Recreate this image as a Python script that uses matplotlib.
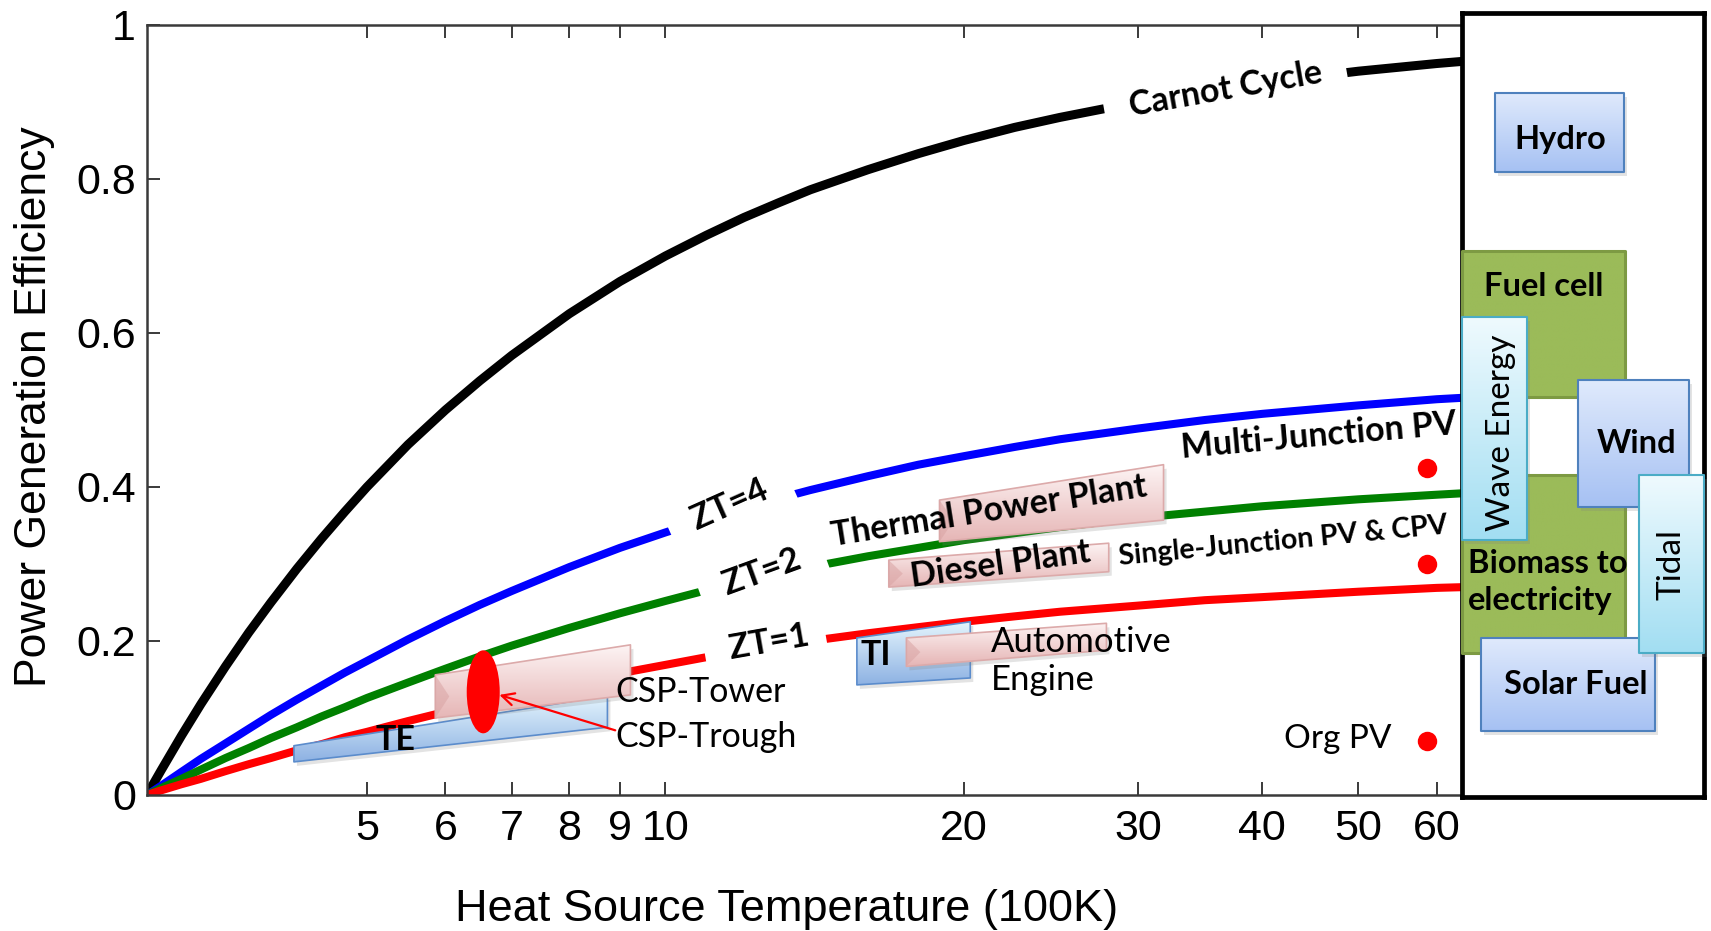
import numpy as np
import matplotlib
matplotlib.use("Agg")
import matplotlib.pyplot as plt
import matplotlib.transforms as mtransforms
from matplotlib.patches import Polygon, Ellipse
from matplotlib.colors import LinearSegmentedColormap
from matplotlib.ticker import NullLocator

# ---------------------------------------------------------------- data
# heat source temperature, in units of 100 K
temp = [3.0, 3.1, 3.25, 3.4, 3.6, 3.8, 4.0, 4.25, 4.5, 4.75, 5.0, 5.5, 6.0, 6.5,
        7.0, 8.0, 9.0, 10.0, 11.0, 12.0, 13.0, 14.0, 16.0, 18.0, 20.0, 22.5, 25.0,
        30.0, 35.0, 40.0, 50.0, 60.0, 64.0]
eff_carnot = [0.0, 0.032, 0.077, 0.118, 0.167, 0.211, 0.250, 0.294, 0.333, 0.368,
              0.400, 0.455, 0.500, 0.538, 0.571, 0.625, 0.667, 0.700, 0.727, 0.750,
              0.769, 0.786, 0.812, 0.833, 0.850, 0.867, 0.880, 0.900, 0.914, 0.925,
              0.940, 0.950, 0.953]
eff_zt4 = [0.0, 0.012, 0.030, 0.047, 0.067, 0.086, 0.104, 0.124, 0.142, 0.159,
           0.174, 0.202, 0.226, 0.247, 0.265, 0.296, 0.321, 0.341, 0.358, 0.373,
           0.385, 0.396, 0.414, 0.429, 0.440, 0.452, 0.462, 0.476, 0.487, 0.495,
           0.506, 0.514, 0.516]
eff_zt2 = [0.0, 0.009, 0.021, 0.033, 0.048, 0.061, 0.074, 0.088, 0.102, 0.114,
           0.126, 0.146, 0.164, 0.180, 0.194, 0.217, 0.236, 0.252, 0.266, 0.277,
           0.287, 0.296, 0.310, 0.321, 0.331, 0.340, 0.348, 0.360, 0.368, 0.375,
           0.384, 0.390, 0.392]
eff_zt1 = [0.0, 0.006, 0.014, 0.021, 0.031, 0.040, 0.048, 0.058, 0.066, 0.075,
           0.082, 0.096, 0.108, 0.119, 0.128, 0.145, 0.158, 0.169, 0.179, 0.187,
           0.194, 0.200, 0.210, 0.218, 0.225, 0.232, 0.238, 0.246, 0.253, 0.257,
           0.264, 0.269, 0.270]

x_ticks = [5, 6, 7, 8, 9, 10, 20, 30, 40, 50, 60]
x_tick_labels = ["5", "6", "7", "8", "9", "10", "20", "30", "40", "50", "60"]
y_ticks = [0, 0.2, 0.4, 0.6, 0.8, 1.0]
y_tick_labels = ["0", "0.2", "0.4", "0.6", "0.8", "1"]

# heat engines: temperature span and efficiency span at both ends
engine_names = ["Thermal Power Plant", "Diesel Plant", "CSP-Tower", "Automotive Engine"]
engine_temp = [(18.9, 31.8), (16.8, 28.0), (5.86, 9.22), (17.5, 27.85)]
engine_eff_lo = [(0.329, 0.357), (0.270, 0.290), (0.100, 0.130), (0.167, 0.188)]
engine_eff_hi = [(0.383, 0.429), (0.305, 0.327), (0.156, 0.195), (0.204, 0.223)]

# thermoelectric (TE) and thermionic (TI) converters
conv_names = ["TE", "TI"]
conv_temp = [(4.22, 8.74), (15.6, 20.3)]
conv_eff_lo = [(0.043, 0.088), (0.143, 0.152)]
conv_eff_hi = [(0.064, 0.129), (0.204, 0.225)]

# CSP-Trough operating point
trough_temp = 6.55
trough_eff = 0.134

# photovoltaics
pv_names = ["Multi-Junction PV", "Single-Junction PV & CPV", "Org PV"]
pv_temp = [58.7, 58.7, 58.7]
pv_eff = [0.425, 0.300, 0.070]

# non-thermal generation, efficiency ranges
other_names = ["Hydro", "Fuel cell", "Biomass to\nelectricity", "Wind",
               "Wave Energy", "Tidal", "Solar Fuel"]
other_eff = [(0.809, 0.912), (0.517, 0.706), (0.185, 0.416), (0.374, 0.539),
             (0.331, 0.621), (0.185, 0.415), (0.083, 0.204)]

# ---------------------------------------------------------------- styling
ANN = ["Lato", "DejaVu Sans"]
TICKF = ["Liberation Sans", "DejaVu Sans"]
FS = 24.5

fig = plt.figure(figsize=(17.11, 9.31), dpi=100)
W, H = 1711.0, 931.0
ax = fig.add_axes([147 / W, 1 - 795 / H, (1462 - 147) / W, (795 - 25) / H])
ax.set_xscale("log")
ax.set_xlim(3.0, 63.6)
ax.set_ylim(0, 1)
ax.set_autoscale_on(False)


def shaded_patch(a, verts, top, bottom, edge, z, lw=1.2, shadow=(3, -4)):
    verts = np.asarray(verts, float)
    if shadow is not None:
        tr = mtransforms.offset_copy(a.transData, fig=fig, x=shadow[0], y=shadow[1], units="dots")
        a.add_patch(Polygon(verts, closed=True, transform=tr, fc="#808080", ec="none",
                            alpha=0.22, zorder=z - 0.2, clip_on=False))
    outline = Polygon(verts, closed=True, fc="none", ec=edge, lw=lw, zorder=z + 0.1,
                      clip_on=False, joinstyle="round")
    a.add_patch(outline)
    cmap = LinearSegmentedColormap.from_list("shade", [bottom, top])
    x0, x1 = verts[:, 0].min(), verts[:, 0].max()
    y0, y1 = verts[:, 1].min(), verts[:, 1].max()
    im = a.imshow(np.linspace(0, 1, 128).reshape(-1, 1), extent=(x0, x1, y0, y1),
                  origin="lower", cmap=cmap, aspect="auto", interpolation="bilinear",
                  zorder=z)
    im.set_clip_path(outline)
    return outline


def bevel(a, t0, lo, hi, depth_px, color, z):
    """Soft triangular facet on the left end of a slab."""
    p_lo = a.transData.transform((t0, lo))
    p_hi = a.transData.transform((t0, hi))
    tip = 0.5 * (p_lo + p_hi) + np.array([depth_px, 0.0])
    inv = a.transData.inverted()
    tri = [inv.transform(p_lo), inv.transform(p_hi), inv.transform(tip)]
    a.add_patch(Polygon(tri, closed=True, fc=color, ec="none", alpha=0.55, zorder=z))


# ---------------------------------------------------------------- curves
ax.plot(temp, eff_carnot, color="black", lw=6.5, solid_joinstyle="round",
        solid_capstyle="butt", zorder=2)
curve_kw = dict(lw=5.8, solid_joinstyle="round", solid_capstyle="butt", zorder=2)
ax.plot(temp, eff_zt4, color="#0000ff", **curve_kw)
ax.plot(temp, eff_zt2, color="#008000", **curve_kw)
ax.plot(temp, eff_zt1, color="#ff0000", **curve_kw)

gap = dict(boxstyle="square,pad=0.25", fc="white", ec="none")
ax.text(36.7, 0.916, "  Carnot Cycle  ", rotation=10, rotation_mode="anchor",
        ha="center", va="center", fontsize=FS, fontweight="bold", family=ANN,
        bbox=gap, zorder=3)
ax.text(11.6, 0.377, "  ZT=4  ", rotation=24, rotation_mode="anchor", ha="center",
        va="center", fontsize=FS, fontweight="bold", family=ANN, bbox=gap, zorder=3)
ax.text(12.5, 0.290, "  ZT=2  ", rotation=20, rotation_mode="anchor", ha="center",
        va="center", fontsize=FS, fontweight="bold", family=ANN, bbox=gap, zorder=3)
ax.text(12.6, 0.198, "  ZT=1 ", rotation=10, rotation_mode="anchor", ha="center",
        va="center", fontsize=FS, fontweight="bold", family=ANN, bbox=gap, zorder=3)

# ---------------------------------------------------------------- converters
blue_top, blue_bot, blue_edge = "#e4f5fd", "#8eb2e3", "#5b8ccc"
for (t0, t1), (lo0, lo1), (hi0, hi1) in zip(conv_temp, conv_eff_lo, conv_eff_hi):
    shaded_patch(ax, [(t0, lo0), (t1, lo1), (t1, hi1), (t0, hi0)],
                 blue_top, blue_bot, blue_edge, z=4)

# ---------------------------------------------------------------- engines
pink_top, pink_bot, pink_edge = "#fdf4f4", "#e6b6b6", "#dcaaaa"
for (t0, t1), (lo0, lo1), (hi0, hi1) in zip(engine_temp, engine_eff_lo, engine_eff_hi):
    shaded_patch(ax, [(t0, lo0), (t1, lo1), (t1, hi1), (t0, hi0)],
                 pink_top, pink_bot, pink_edge, z=5)
    bevel(ax, t0, lo0, hi0, 14, "#d9a4a4", z=5.3)

# CSP-Trough marker and arrow
ell_tr = fig.dpi_scale_trans + mtransforms.ScaledTranslation(trough_temp, trough_eff, ax.transData)
ax.add_patch(Ellipse((0, 0), 0.33, 0.83, transform=ell_tr, fc="#ff0000", ec="none", zorder=6))
ax.annotate("", xy=(6.80, 0.130), xytext=(8.90, 0.084),
            arrowprops=dict(arrowstyle="->", color="#ff0000", lw=1.6,
                            mutation_scale=22, shrinkA=0, shrinkB=0), zorder=6)

# PV points
ax.plot(pv_temp, pv_eff, "o", color="#ff0000", ms=14, mec="none", zorder=6,
        clip_on=False)

# ---------------------------------------------------------------- labels
lab = dict(family=ANN, zorder=8)
ax.text(21.2, 0.368, engine_names[0], rotation=9, rotation_mode="anchor", ha="center",
        va="center", fontsize=FS, fontweight="bold", **lab)
ax.text(21.8, 0.299, engine_names[1], rotation=8, rotation_mode="anchor", ha="center",
        va="center", fontsize=FS, fontweight="bold", **lab)
ax.text(8.90, 0.134, engine_names[2], ha="left", va="center", fontsize=FS, **lab)
ax.text(8.90, 0.075, "CSP-Trough", ha="left", va="center", fontsize=FS, **lab)
ax.text(21.3, 0.199, "Automotive", ha="left", va="center", fontsize=FS + 0.5, **lab)
ax.text(21.3, 0.150, "Engine", ha="left", va="center", fontsize=FS + 0.5, **lab)
ax.text(5.34, 0.071, conv_names[0], ha="center", va="center", fontsize=FS,
        fontweight="bold", **lab)
ax.text(16.3, 0.182, conv_names[1], ha="center", va="center", fontsize=FS,
        fontweight="bold", **lab)
ax.text(45.6, 0.466, pv_names[0], rotation=5, rotation_mode="anchor", ha="center",
        va="center", fontsize=FS, fontweight="bold", **lab)
ax.text(42.0, 0.329, pv_names[1], rotation=5.5, rotation_mode="anchor", ha="center",
        va="center", fontsize=20.5, fontweight="bold", **lab)
ax.text(54.0, 0.073, pv_names[2], ha="right", va="center", fontsize=FS - 0.5, **lab)

# ---------------------------------------------------------------- axes styling
ax.set_xticks(x_ticks)
ax.set_xticklabels(x_tick_labels)
ax.xaxis.set_minor_locator(NullLocator())
ax.set_yticks(y_ticks)
ax.set_yticklabels(y_tick_labels)
for s in ax.spines.values():
    s.set_linewidth(1.8)
    s.set_color("#3a3a3a")
ax.spines["right"].set_visible(False)
ax.tick_params(axis="both", direction="in", length=9.5, width=1.4, color="#3a3a3a",
               top=True, right=False, labelsize=31)
ax.tick_params(axis="x", pad=10)
ax.tick_params(axis="y", pad=8)
for t in ax.get_xticklabels() + ax.get_yticklabels():
    t.set_family(TICKF)

fig.text(787 / W, 0.0105, "Heat Source Temperature (100K)", ha="center", va="baseline",
         fontsize=32.5, family=TICKF)
fig.text(35 / W, 1 - 407 / H, "Power Generation Efficiency", rotation=90, ha="center",
         va="center", fontsize=32, family=TICKF)

# ---------------------------------------------------------------- side panel
pax = fig.add_axes([1462 / W, 1 - 797 / H, 242 / W, 784 / H])
pax.set_xlim(0, 1)
pax.set_ylim((795 - 797) / 770, (795 - 13) / 770)
pax.set_autoscale_on(False)
pax.set_xticks([])
pax.set_yticks([])
for s in pax.spines.values():
    s.set_linewidth(3.4)
    s.set_color("black")

panel_x = [(0.136, 0.669), (0.0, 0.672), (0.0, 0.672), (0.479, 0.938),
           (0.0, 0.269), (0.731, 1.0), (0.079, 0.798)]
panel_style = ["blue", "green", "green", "blue", "cyan", "cyan", "blue"]
panel_z = [3, 3, 3.5, 4, 5, 6, 5.5]
styles = {
    "blue": ("#e0eafc", "#a6c1f3", "#4f81bd", 1.5),
    "green": ("#9bbb59", "#9bbb59", "#7d9a43", 2.2),
    "cyan": ("#effafe", "#a2def2", "#4bacc6", 1.5),
}
for (x0, x1), (e0, e1), st, z in zip(panel_x, other_eff, panel_style, panel_z):
    top, bot, edge, lw = styles[st]
    shaded_patch(pax, [(x0, e0), (x1, e0), (x1, e1), (x0, e1)], top, bot, edge, z=z,
                 lw=lw, shadow=None if st == "green" else (3, -4))

ptxt = dict(family=ANN, fontsize=23.5, fontweight="bold", zorder=9)
pax.text(0.405, 0.851, other_names[0], ha="center", va="center", **ptxt)
pax.text(0.339, 0.660, other_names[1], ha="center", va="center", **ptxt)
pax.text(0.025, 0.277, other_names[2], ha="left", va="center", linespacing=1.35, **ptxt)
pax.text(0.720, 0.457, other_names[3], ha="center", va="center", **ptxt)
pax.text(0.160, 0.470, other_names[4], ha="center", va="center", rotation=90,
         family=ANN, fontsize=24, zorder=9)
pax.text(0.867, 0.300, other_names[5], ha="center", va="center", rotation=90,
         family=ANN, fontsize=24, zorder=9)
pax.text(0.469, 0.144, other_names[6], ha="center", va="center", **ptxt)

fig.savefig("out.png", dpi=100)
